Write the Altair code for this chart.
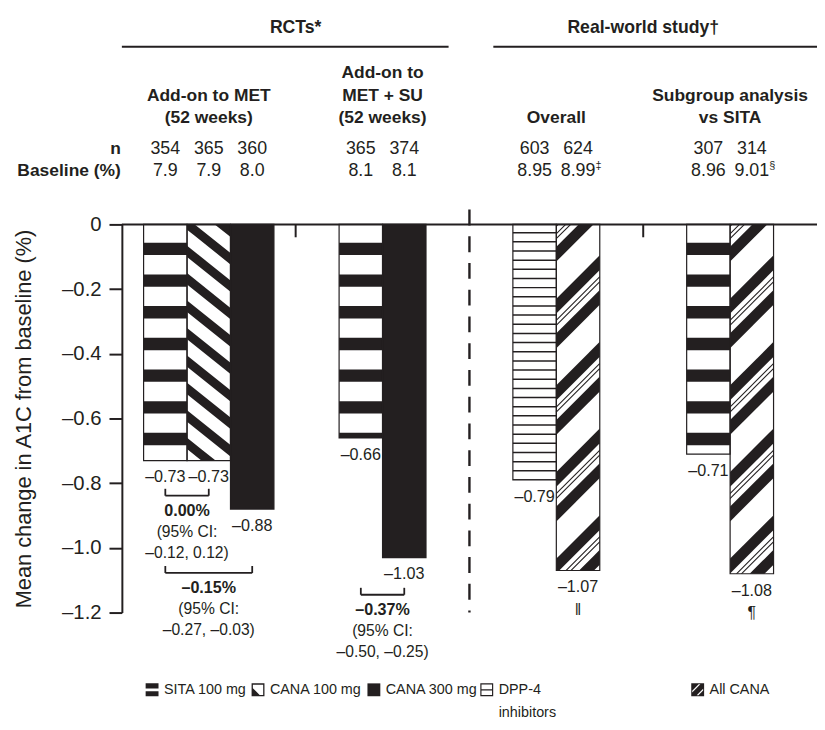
import altair as alt
import pandas as pd
import numpy as np

# ---------------- data ----------------
section_names = ["RCTs*", "Real-world study\u2020"]
section_groups = [[0, 1], [2, 3]]
group_titles = [["Add-on to MET", "(52 weeks)"],
                ["Add-on to", "MET + SU", "(52 weeks)"],
                ["Overall"],
                ["Subgroup analysis", "vs SITA"]]
bar_group = [0, 0, 0, 1, 1, 2, 2, 3, 3]
bar_series = ["SITA 100 mg", "CANA 100 mg", "CANA 300 mg",
              "SITA 100 mg", "CANA 300 mg",
              "DPP-4 inhibitors", "All CANA",
              "SITA 100 mg", "All CANA"]
bar_value = [-0.73, -0.73, -0.88, -0.66, -1.03, -0.79, -1.07, -0.71, -1.08]
bar_n = ["354", "365", "360", "365", "374", "603", "624", "307", "314"]
bar_baseline = ["7.9", "7.9", "8.0", "8.1", "8.1", "8.95", "8.99", "8.96", "9.01"]
bar_baseline_mark = ["", "", "", "", "", "", "\u2021", "", "\u00a7"]
bar_value_mark = ["", "", "", "", "", "", "\u2016", "", "\u00b6"]
row_labels = ["n", "Baseline (%)"]
comp_group = [0, 0, 1]
comp_from = ["SITA 100 mg", "SITA 100 mg", "SITA 100 mg"]
comp_to = ["CANA 100 mg", "CANA 300 mg", "CANA 300 mg"]
comp_diff = ["0.00%", "\u20130.15%", "\u20130.37%"]
comp_ci_head = ["(95% CI:", "(95% CI:", "(95% CI:"]
comp_ci = ["\u20130.12, 0.12)", "\u20130.27, \u20130.03)", "\u20130.50, \u20130.25)"]
legend_series = ["SITA 100 mg", "CANA 100 mg", "CANA 300 mg", "DPP-4 inhibitors", "All CANA"]
legend_text = ["SITA 100 mg", "CANA 100 mg", "CANA 300 mg", "DPP-4\ninhibitors", "All CANA"]
y_ticks = [0, -0.2, -0.4, -0.6, -0.8, -1.0, -1.2]
y_title = "Mean change in A1C from baseline (%)"

# ---------------- layout / style ----------------
BLACK = "#231f20"
FONT = "Liberation Sans, Arial, Helvetica, sans-serif"
W, H = 702, 392
PAD = {"left": 115, "top": 215, "right": 0, "bottom": 110}
X_DOM = [0, 16]
Y_DOM = [-1.2, 0]
XU = W / (X_DOM[1] - X_DOM[0])
YU = H / (Y_DOM[1] - Y_DOM[0])
SLOT = 4
PAGE_MARGIN = 8


def py(page_y):
    return -(page_y - PAGE_MARGIN - PAD["top"]) / YU


def px(page_x):
    return (page_x - PAGE_MARGIN - PAD["left"]) / XU


SECTION_PY = 25
SECTION_LINE_PY = 43.5
SECTION_LINE_INSET = [(0.0, 0.48), (0.55, 0.0)]
GROUP_TITLE_PY = [70, 93, 116]
N_ROW_PY = 147
BASE_ROW_PY = 169
DASH_TOP_PY = 208
TICK_LEN_PX = 13
BRACKET_PY = [497, 575, 597]
BRACKET_ARM_PX = 7
COMP_TEXT_DY = [15, 36.5, 58]
LEGEND_PY = 693
LEGEND_PX = [153.5, 260.5, 377.5, 491.5, 704.5]

PATTERN = {
    "SITA 100 mg": dict(kind="h", period=32.0, bands=[(18.5, 31.0)]),
    "DPP-4 inhibitors": dict(kind="h", period=9.25, bands=[(7.6, 9.1)]),
    "CANA 100 mg": dict(kind="d", slope=0.8, period=27.7, bands=[(21.5, 33.0)]),
    "All CANA": dict(kind="d", slope=-1.0, period=87.5,
                     bands=[(-12.5, 2.5), (22.5, 37.5), (8.6, 10.1), (13.6, 15.1)]),
}
SWATCH = {
    "SITA 100 mg": "M-1,-1H1V-0.22H-1Z M-1,0.22H1V1H-1Z",
    "CANA 100 mg": "M-1,-1H1V1H-1Z M-0.8,-0.8V0.8H0.8V-0.8Z M-0.8,-0.25L0.25,0.8H-0.8Z",
    "CANA 300 mg": "M-1,-1H1V1H-1Z",
    "DPP-4 inhibitors": "M-1,-1H1V1H-1Z M-0.82,-0.82V0.82H0.82V-0.82Z M-0.82,-0.1H0.82V0.1H-0.82Z",
    "All CANA": "M-1,-1H1V1H-1Z M-0.85,0.15L-0.85,0.42L0.42,-0.85L0.15,-0.85Z M-0.15,0.85L0.12,0.85L0.85,0.12L0.85,-0.15Z",
}
FILL = {"SITA 100 mg": "white", "CANA 100 mg": "white", "CANA 300 mg": BLACK,
        "DPP-4 inhibitors": "white", "All CANA": "white"}

# ---------------- derived tables ----------------
rows = []
for i in range(len(bar_value)):
    g = bar_group[i]
    members = [j for j in range(len(bar_group)) if bar_group[j] == g]
    k = members.index(i)
    left = SLOT * g + SLOT / 2 - len(members) / 2 + k
    rows.append(dict(bar=i, group=g, series=bar_series[i], value=bar_value[i], zero=0.0,
                     x=left, x2=left + 1, xc=left + 0.5,
                     n=bar_n[i], base=bar_baseline[i], base_mark=bar_baseline_mark[i],
                     value_mark=bar_value_mark[i],
                     ny=py(N_ROW_PY), by=py(BASE_ROW_PY)))
bars = pd.DataFrame(rows)

hrows, drows = [], []
for _, b in bars.iterrows():
    pat = PATTERN.get(b["series"])
    if pat is None:
        continue
    D = -b["value"] * YU
    Wp = XU
    per = pat["period"]
    if pat["kind"] == "h":
        for k in range(0, int(np.ceil(D / per)) + 2):
            for (c1, c2) in pat["bands"]:
                a, bb = c1 + k * per, c2 + k * per
                if a >= D or bb <= 0:
                    continue
                hrows.append(dict(x=b["x"], x2=b["x2"], y=-max(a, 0) / YU, y2=-min(bb, D) / YU))
    else:
        m = pat["slope"]
        lo = min(0.0, -m * Wp)
        hi = max(D, D - m * Wp)
        for k in range(int(np.floor(lo / per)) - 2, int(np.ceil(hi / per)) + 2):
            for bi, (c1, c2) in enumerate(pat["bands"]):
                a, bb = c1 + k * per, c2 + k * per
                pts = {0.0, Wp}
                for c in (a, bb):
                    for lvl in (0.0, D):
                        p = (lvl - c) / m
                        if 0 < p < Wp:
                            pts.add(p)
                seg = []
                for p in sorted(pts):
                    top = min(max(a + m * p, 0.0), D)
                    bot = min(max(bb + m * p, 0.0), D)
                    seg.append((p, top, bot))
                if max(s[2] - s[1] for s in seg) < 1e-6:
                    continue
                sid = f"{b['bar']}-{k}-{bi}"
                for p, top, bot in seg:
                    drows.append(dict(sid=sid, x=b["x"] + p / XU, y=-top / YU, y2=-bot / YU))
hdf = pd.DataFrame(hrows)
ddf = pd.DataFrame(drows).sort_values(["sid", "x"])

# frame lines: zero line, group boundary ticks, section lines
frame = [dict(x=X_DOM[0], x2=X_DOM[1], y=0.0, y2=0.0)]
for s, gs in enumerate(section_groups):
    for g in gs[:-1]:
        xb = SLOT * (g + 1)
        frame.append(dict(x=xb, x2=xb, y=0.0, y2=-TICK_LEN_PX / YU))
    ins = SECTION_LINE_INSET[s]
    frame.append(dict(x=SLOT * gs[0] + ins[0], x2=SLOT * (gs[-1] + 1) - ins[1],
                      y=py(SECTION_LINE_PY), y2=py(SECTION_LINE_PY)))
frame_df = pd.DataFrame(frame)

dash_x = SLOT * len(section_groups[0])
dash_df = pd.DataFrame([dict(x=dash_x, x2=dash_x, y=py(DASH_TOP_PY), y2=Y_DOM[0])])

sec_df = pd.DataFrame([dict(x=SLOT * (gs[0] + gs[-1] + 1) / 2, y=py(SECTION_PY), text=section_names[s])
                       for s, gs in enumerate(section_groups)])
gt = []
for g, lines in enumerate(group_titles):
    for k, t in enumerate(lines):
        r = len(GROUP_TITLE_PY) - len(lines) + k
        gt.append(dict(x=SLOT * g + SLOT / 2, y=py(GROUP_TITLE_PY[r]), text=t))
gt_df = pd.DataFrame(gt)
rl_df = pd.DataFrame([dict(x=X_DOM[0], y=py(N_ROW_PY), text=row_labels[0]),
                      dict(x=X_DOM[0], y=py(BASE_ROW_PY), text=row_labels[1])])

br, ct = [], []
for c in range(len(comp_group)):
    g = comp_group[c]
    xa = bars[(bars.group == g) & (bars.series == comp_from[c])].xc.iloc[0]
    xb = bars[(bars.group == g) & (bars.series == comp_to[c])].xc.iloc[0]
    yb = py(BRACKET_PY[c])
    yt = py(BRACKET_PY[c] - BRACKET_ARM_PX)
    br += [dict(x=xa, x2=xb, y=yb, y2=yb), dict(x=xa, x2=xa, y=yb, y2=yt), dict(x=xb, x2=xb, y=yb, y2=yt)]
    for li, t in enumerate([comp_diff[c], comp_ci_head[c], comp_ci[c]]):
        ct.append(dict(x=(xa + xb) / 2, y=py(BRACKET_PY[c] + COMP_TEXT_DY[li]), text=t,
                       bold="bold" if li == 0 else "normal"))
br_df = pd.DataFrame(br)
ct_df = pd.DataFrame(ct)

leg_df = pd.DataFrame([dict(series=s, text=legend_text[i], x=px(LEGEND_PX[i]), y=py(LEGEND_PY))
                       for i, s in enumerate(legend_series)])

# ---------------- encodings ----------------
xscale = alt.Scale(domain=X_DOM, nice=False, zero=False)
yscale = alt.Scale(domain=Y_DOM, nice=False, zero=False)

yaxis = alt.Axis(values=y_ticks,
                 labelExpr="datum.value == 0 ? '0' : '\u2013' + format(-datum.value, '.1f')",
                 title=y_title, titleFont=FONT, titleFontSize=22, titleFontWeight="normal",
                 titleColor=BLACK, titlePadding=26,
                 labelFont=FONT, labelFontSize=20.5, labelColor=BLACK, labelPadding=8,
                 labelFlush=False, labelOverlap=False,
                 tickSize=13, tickWidth=2, tickColor=BLACK,
                 domainColor=BLACK, domainWidth=2, grid=False)


def X(f):
    return alt.X(f"{f}:Q", scale=xscale, axis=None)


def Y(f):
    return alt.Y(f"{f}:Q", scale=yscale, axis=yaxis, stack=None)


base = alt.Chart(bars).mark_rect(strokeWidth=0).encode(
    x=X("x"), x2=alt.X2("x2"), y=Y("value"), y2=alt.Y2("zero"),
    fill=alt.Fill("series:N", scale=alt.Scale(domain=list(FILL.keys()), range=list(FILL.values())),
                  legend=None))

hpat = alt.Chart(hdf).mark_rect(color=BLACK, strokeWidth=0).encode(
    x=X("x"), x2=alt.X2("x2"), y=Y("y"), y2=alt.Y2("y2"))

dpat = alt.Chart(ddf).mark_area(color=BLACK, orient="vertical", strokeWidth=0, opacity=1).encode(
    x=X("x"), y=Y("y"), y2=alt.Y2("y2"), detail="sid:N")

outline = alt.Chart(bars).mark_rect(fillOpacity=0, stroke=BLACK, strokeWidth=1.2).encode(
    x=X("x"), x2=alt.X2("x2"), y=Y("value"), y2=alt.Y2("zero"))

frame_l = alt.Chart(frame_df).mark_rule(color=BLACK, strokeWidth=2).encode(
    x=X("x"), x2=alt.X2("x2"), y=Y("y"), y2=alt.Y2("y2"))

dash_l = alt.Chart(dash_df).mark_rule(color=BLACK, strokeWidth=2.4, strokeDash=[16, 11]).encode(
    x=X("x"), x2=alt.X2("x2"), y=Y("y"), y2=alt.Y2("y2"))

br_l = alt.Chart(br_df).mark_rule(color=BLACK, strokeWidth=1.8).encode(
    x=X("x"), x2=alt.X2("x2"), y=Y("y"), y2=alt.Y2("y2"))


def text_layer(df, size, weight="normal", align="center", baseline="middle", dx=0, dy=0,
               xf="x", yf="y", tf="text", **kw):
    return alt.Chart(df).mark_text(font=FONT, fontSize=size, fontWeight=weight, align=align,
                                   baseline=baseline, dx=dx, dy=dy, color=BLACK, **kw).encode(
        x=X(xf), y=Y(yf), text=f"{tf}:N")


sec_t = text_layer(sec_df, 17.8, "bold")
gt_t = text_layer(gt_df, 17.6, "bold")
rl_t = text_layer(rl_df, 17.6, "bold", align="right", dx=-1)
n_t = text_layer(bars, 18, xf="xc", yf="ny", tf="n")
b_t = text_layer(bars, 18, xf="xc", yf="by", tf="base")
bm_t = text_layer(bars, 11, align="left", dx=17.5, dy=-5, xf="xc", yf="by", tf="base_mark")
val_t = alt.Chart(bars).transform_calculate(
    label="'\u2013' + format(-datum.value, '.2f')"
).mark_text(font=FONT, fontSize=16.3, baseline="middle", dy=17, color=BLACK).encode(
    x=X("xc"), y=Y("value"), text="label:N")
vm_t = alt.Chart(bars).transform_filter("datum.value_mark != ''").mark_text(
    font=FONT, fontSize=16, baseline="middle", dy=40, color=BLACK).encode(
    x=X("xc"), y=Y("value"), text="value_mark:N")
ct_b = text_layer(ct_df[ct_df.bold == "bold"], 16.3, "bold")
ct_n = text_layer(ct_df[ct_df.bold == "normal"], 15.8)

leg_sw = alt.Chart(leg_df).mark_point(filled=True, size=169, opacity=1, color=BLACK, strokeWidth=0).encode(
    x=X("x"), y=Y("y"),
    shape=alt.Shape("series:N", scale=alt.Scale(domain=legend_series,
                                                range=[SWATCH[s] for s in legend_series]), legend=None))
leg_t = alt.Chart(leg_df).mark_text(font=FONT, fontSize=14.5, align="left", baseline="top", dx=12, dy=-7,
                                    lineBreak="\n", lineHeight=23, color=BLACK).encode(
    x=X("x"), y=Y("y"), text="text:N")

chart = alt.layer(
    base, hpat, dpat, outline, frame_l, dash_l, br_l,
    sec_t, gt_t, rl_t, n_t, b_t, bm_t, val_t, vm_t, ct_b, ct_n, leg_sw, leg_t
).properties(
    width=W, height=H, padding=PAD, autosize=alt.AutoSizeParams(type="none"), background="white"
).configure_view(stroke=None)

chart.save("out.html", embed_options={"renderer": "svg", "actions": False})
